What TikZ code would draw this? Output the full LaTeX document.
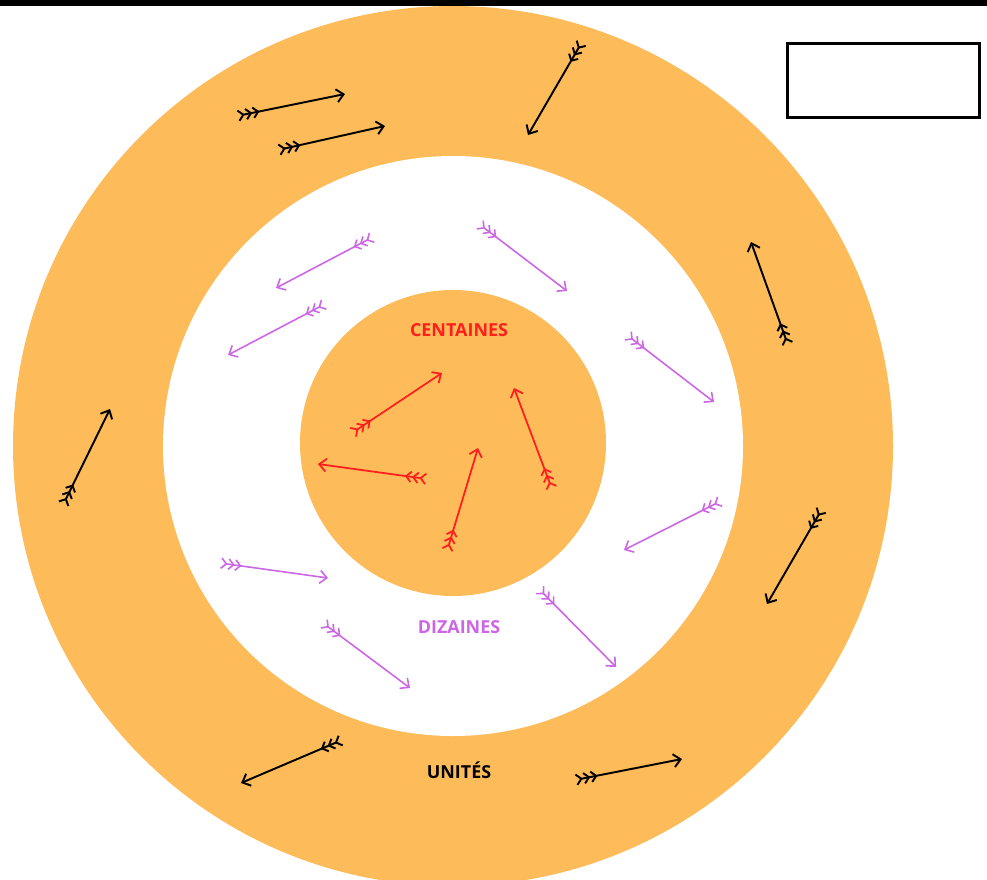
\documentclass[tikz,border=0pt]{standalone}
\usepackage{fontspec}
\setmainfont{Open Sans}
\usetikzlibrary{arrows.meta}
\definecolor{ringorange}{HTML}{FDBB59}
\definecolor{centred}{HTML}{FF1E1E}
\definecolor{dizpurple}{HTML}{CC66E6}
\tikzset{
  feather/.style={{Straight Barb[reversed,length=1mm,width=2.1mm,sep=0.1mm]
                   Straight Barb[reversed,length=1mm,width=2.1mm,sep=0.1mm]
                   Straight Barb[reversed,length=1mm,width=2.1mm]}-{Straight Barb[length=1.4mm,width=2.6mm]},
                  line cap=round},
  unitarr/.style={feather, line width=1.1pt, color=black},
  dizarr/.style={feather, line width=0.9pt, color=dizpurple},
  centarr/.style={feather, line width=1pt, color=centred},
  ringlabel/.style={font=\bfseries\fontsize{10.2}{12}\selectfont, inner sep=0pt}}
\begin{document}
\begin{tikzpicture}[x=0.02cm, y=-0.02cm]
  \clip (0,0) rectangle (987,879);
  % rings
  \fill[ringorange] (453,446) circle (440);
  \fill[white] (453,446) circle (290);
  \fill[ringorange] (453,443) circle (153);
  \fill[black] (0,0) rectangle (987,5.5);
  \node[draw, line width=1.6pt, minimum width=3.84cm, minimum height=1.48cm, inner sep=0pt] (legend) at (883.5,80.5) {};
  % labels
  \node[ringlabel, text=centred] (cent) at (459,330) {CENTAINES};
  \node[ringlabel, text=dizpurple] (diz) at (459,627) {DIZAINES};
  \node[ringlabel] (unit) at (459,770) {UNITÉS};
  % unites
  \draw[unitarr] (237,116) -- (345,94);
  \draw[unitarr] (278,150) -- (385,126);
  \draw[unitarr] (582,42) -- (528,135);
  \draw[unitarr] (788,345) -- (751,242);
  \draw[unitarr] (63,505) -- (110,409);
  \draw[unitarr] (822,509) -- (767,604);
  \draw[unitarr] (342,740) -- (241,783);
  \draw[unitarr] (575,780) -- (682,759);
  % dizaines
  \draw[dizarr] (373,237) -- (276,288);
  \draw[dizarr] (325,304) -- (228,355);
  \draw[dizarr] (479,224) -- (567,291);
  \draw[dizarr] (627,335) -- (714,402);
  \draw[dizarr] (721,501) -- (624,550);
  \draw[dizarr] (220,563) -- (328,578);
  \draw[dizarr] (323,623) -- (410,688);
  \draw[dizarr] (539,589) -- (616,667);
  % centaines
  \draw[centarr] (352,433) -- (442,373);
  \draw[centarr] (427,479) -- (318,464);
  \draw[centarr] (447,551) -- (478,448);
  \draw[centarr] (552,489) -- (514,388);
\end{tikzpicture}
\end{document}
